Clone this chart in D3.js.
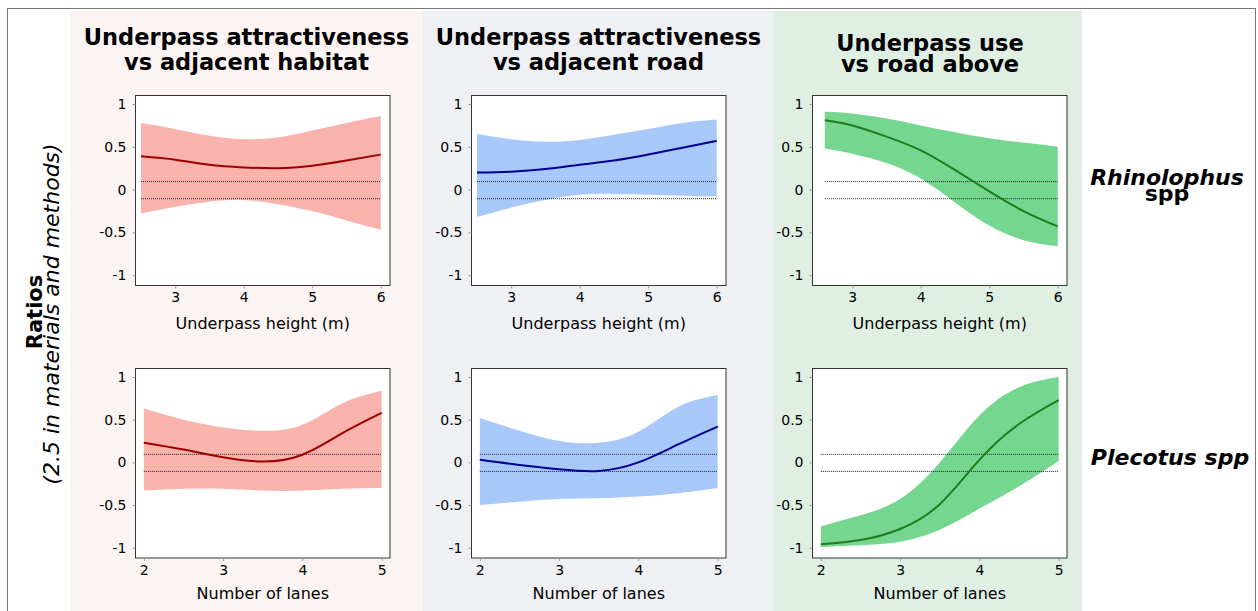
<!DOCTYPE html>
<html>
<head>
<meta charset="utf-8">
<script src="https://cdn.jsdelivr.net/npm/d3@7"></script>
<style>
  body { margin: 0; background: #fff; }
  text { font-family: "DejaVu Sans", Verdana, sans-serif; fill: #000; }
</style>
</head>
<body>
<svg width="1258" height="611"></svg>
<script>
// x values of the fitted curves
var heightX = [2.5, 3, 3.5, 4, 4.5, 5, 5.5, 6]
var heightXUse = [2.6, 3, 3.5, 4, 4.5, 5, 5.5, 6]
var lanesX = [2, 2.5, 3, 3.5, 4, 4.5, 5]

// Rhinolophus spp, underpass height
var habitatHeightFit = [0.39, 0.35, 0.29, 0.26, 0.25, 0.28, 0.34, 0.41]
var habitatHeightUp = [0.78, 0.71, 0.63, 0.59, 0.61, 0.69, 0.78, 0.86]
var habitatHeightLo = [-0.28, -0.20, -0.14, -0.12, -0.17, -0.25, -0.36, -0.47]

var roadHeightFit = [0.20, 0.21, 0.24, 0.29, 0.34, 0.41, 0.49, 0.57]
var roadHeightUp = [0.65, 0.59, 0.56, 0.58, 0.64, 0.71, 0.78, 0.82]
var roadHeightLo = [-0.32, -0.21, -0.12, -0.06, -0.05, -0.06, -0.07, -0.08]

var useHeightFit = [0.81, 0.75, 0.62, 0.46, 0.23, -0.02, -0.25, -0.43]
var useHeightUp = [0.91, 0.89, 0.83, 0.75, 0.67, 0.60, 0.55, 0.50]
var useHeightLo = [0.48, 0.42, 0.31, 0.13, -0.15, -0.42, -0.59, -0.66]

// Plecotus spp, number of lanes
var habitatLanesFit = [0.23, 0.15, 0.06, 0.01, 0.09, 0.34, 0.58]
var habitatLanesUp = [0.63, 0.50, 0.41, 0.37, 0.44, 0.69, 0.84]
var habitatLanesLo = [-0.33, -0.31, -0.31, -0.33, -0.33, -0.31, -0.30]

var roadLanesFit = [0.03, -0.03, -0.08, -0.10, 0.00, 0.21, 0.42]
var roadLanesUp = [0.52, 0.37, 0.25, 0.23, 0.36, 0.65, 0.79]
var roadLanesLo = [-0.50, -0.46, -0.43, -0.42, -0.40, -0.36, -0.30]

var useLanesFit = [-0.96, -0.91, -0.78, -0.49, 0.03, 0.45, 0.73]
var useLanesUp = [-0.75, -0.62, -0.43, 0.00, 0.55, 0.88, 1.00]
var useLanesLo = [-0.99, -0.97, -0.93, -0.79, -0.54, -0.28, 0.02]

// ticks and labels
var yTicks = [-1, -0.5, 0, 0.5, 1]
var heightTicks = [3, 4, 5, 6]
var lanesTicks = [2, 3, 4, 5]
var thresholds = [0.1, -0.1]
var colTitles = [["Underpass attractiveness", "vs adjacent habitat"],
                 ["Underpass attractiveness", "vs adjacent road"],
                 ["Underpass use", "vs road above"]]
var rowLabels = [["Rhinolophus", "spp"], ["Plecotus spp"]]
var xTitles = ["Underpass height (m)", "Number of lanes"]

// styling per column
var colBg = ["#fcf4f3", "#eff0f4", "#dff0e3"]
var bandColor = ["#f9b3ad", "#a9c8fa", "#74d68f"]
var lineColor = ["#9e0000", "#00008e", "#1f7d1f"]

var svg = d3.select("svg")

// layout
var colBand = [[70, 423], [423, 774], [774, 1082]]
var colFrame = [[135.5, 390], [471.5, 726], [812.5, 1067]]
var rowFrame = [[95.5, 285.5], [368.5, 558]]
var xDomains = [[2.42, 6.135], [1.895, 5.105]]
var yDomain = [-1.12, 1.1]

function build_panels() {
    var panels = []
    var heightSets = [[heightX, habitatHeightFit, habitatHeightUp, habitatHeightLo],
                      [heightX, roadHeightFit, roadHeightUp, roadHeightLo],
                      [heightXUse, useHeightFit, useHeightUp, useHeightLo]]
    var laneSets = [[lanesX, habitatLanesFit, habitatLanesUp, habitatLanesLo],
                    [lanesX, roadLanesFit, roadLanesUp, roadLanesLo],
                    [lanesX, useLanesFit, useLanesUp, useLanesLo]]
    var sets = [heightSets, laneSets]
    for (var r = 0; r < 2; r++) {
        for (var c = 0; c < 3; c++) {
            var s = sets[r][c]
            panels.push({
                row: r, col: c,
                ticks: r == 0 ? heightTicks : lanesTicks,
                data: s[0].map(function (x, i) {
                    return { x: x, fit: s[1][i], up: s[2][i], lo: s[3][i] }
                })
            })
        }
    }
    return panels
}

function draw_background() {
    svg.selectAll(".colbg")
        .data(colBand)
        .enter().append("rect")
        .attr("class", "colbg")
        .attr("x", function (d) { return d[0] })
        .attr("y", 11)
        .attr("width", function (d) { return d[1] - d[0] })
        .attr("height", 600)
        .attr("fill", function (d, i) { return colBg[i] })

    svg.append("rect")
        .attr("x", 7.5).attr("y", 8.5)
        .attr("width", 1248).attr("height", 620)
        .attr("fill", "none")
        .attr("stroke", "#777")
}

function draw_panel(p) {
    var fx = colFrame[p.col], fy = rowFrame[p.row]
    var x_scale = d3.scaleLinear().domain(xDomains[p.row]).range(fx)
    var y_scale = d3.scaleLinear().domain(yDomain).range([fy[1], fy[0]])

    var g = svg.append("g")

    g.append("rect")
        .attr("x", fx[0]).attr("y", fy[0])
        .attr("width", fx[1] - fx[0]).attr("height", fy[1] - fy[0])
        .attr("fill", "#fff")

    // natural spline keeps the fitted curves smooth through the read points
    var area = d3.area()
        .x(function (d) { return x_scale(d.x) })
        .y0(function (d) { return y_scale(d.lo) })
        .y1(function (d) { return y_scale(d.up) })
        .curve(d3.curveNatural)

    var line = d3.line()
        .x(function (d) { return x_scale(d.x) })
        .y(function (d) { return y_scale(d.fit) })
        .curve(d3.curveNatural)

    g.append("path")
        .datum(p.data)
        .attr("fill", bandColor[p.col])
        .attr("d", area)

    var ext = d3.extent(p.data, function (d) { return d.x })
    g.selectAll(".thr")
        .data(thresholds)
        .enter().append("line")
        .attr("x1", x_scale(ext[0]))
        .attr("x2", x_scale(ext[1]))
        .attr("y1", function (d) { return y_scale(d) + 0.5 })
        .attr("y2", function (d) { return y_scale(d) + 0.5 })
        .attr("stroke", "#222")
        .attr("stroke-width", 1)
        .attr("stroke-dasharray", "1,1")

    g.append("path")
        .datum(p.data)
        .attr("fill", "none")
        .attr("stroke", lineColor[p.col])
        .attr("stroke-width", 2)
        .attr("d", line)

    g.append("rect")
        .attr("x", fx[0]).attr("y", fy[0])
        .attr("width", fx[1] - fx[0]).attr("height", fy[1] - fy[0])
        .attr("fill", "none")
        .attr("stroke", "#333")

    var ya = g.append("g")
        .attr("transform", "translate(" + fx[0] + ",0)")
        .call(d3.axisLeft(y_scale)
            .tickValues(yTicks)
            .tickSize(3)
            .tickPadding(6)
            .tickFormat(function (d) { return String(d) }))
    ya.select(".domain").remove()

    var xa = g.append("g")
        .attr("transform", "translate(0," + fy[1] + ")")
        .call(d3.axisBottom(x_scale)
            .tickValues(p.ticks)
            .tickSize(3)
            .tickPadding(4)
            .tickFormat(d3.format("d")))
    xa.select(".domain").remove()

    g.selectAll(".tick line").attr("stroke", "#999")
    g.selectAll(".tick text")
        .attr("font-family", "DejaVu Sans")
        .attr("font-size", 14)
        .attr("fill", "#111")

    g.append("text")
        .attr("x", (fx[0] + fx[1]) / 2)
        .attr("y", fy[1] + (p.row == 0 ? 43.5 : 41))
        .attr("text-anchor", "middle")
        .attr("font-size", 16)
        .text(xTitles[p.row])
}

function draw_labels() {
    var colCenter = [246.5, 598.5, 930]
    for (var c = 0; c < 3; c++) {
        var base = c == 2 ? [51, 71.5] : [45, 70]
        svg.append("text")
            .attr("x", colCenter[c])
            .attr("text-anchor", "middle")
            .attr("font-size", 22.5)
            .attr("font-weight", "bold")
            .selectAll("tspan")
            .data(colTitles[c])
            .enter().append("tspan")
            .attr("x", colCenter[c])
            .attr("y", function (d, i) { return base[i] })
            .text(function (d) { return d })
    }

    var rowBase = [[185, 201], [465]]
    var rowCenter = [1167, 1170]
    for (var r = 0; r < 2; r++) {
        svg.append("text")
            .attr("text-anchor", "middle")
            .attr("font-size", 22)
            .attr("font-weight", "bold")
            .selectAll("tspan")
            .data(rowLabels[r])
            .enter().append("tspan")
            .attr("x", rowCenter[r])
            .attr("y", function (d, i) { return rowBase[r][i] })
            // the second line under Rhinolophus is set upright
            .attr("font-style", function (d, i) { return r == 0 && i == 1 ? "normal" : "italic" })
            .text(function (d) { return d })
    }

    svg.append("text")
        .attr("transform", "translate(42,312) rotate(-90)")
        .attr("text-anchor", "middle")
        .attr("font-size", 21)
        .attr("font-weight", "bold")
        .text("Ratios")

    svg.append("text")
        .attr("transform", "translate(59,314) rotate(-90)")
        .attr("text-anchor", "middle")
        .attr("font-size", 22)
        .attr("font-style", "italic")
        .text("(2.5 in materials and methods)")
}

draw_background()
build_panels().forEach(draw_panel)
draw_labels()
</script>
</body>
</html>
